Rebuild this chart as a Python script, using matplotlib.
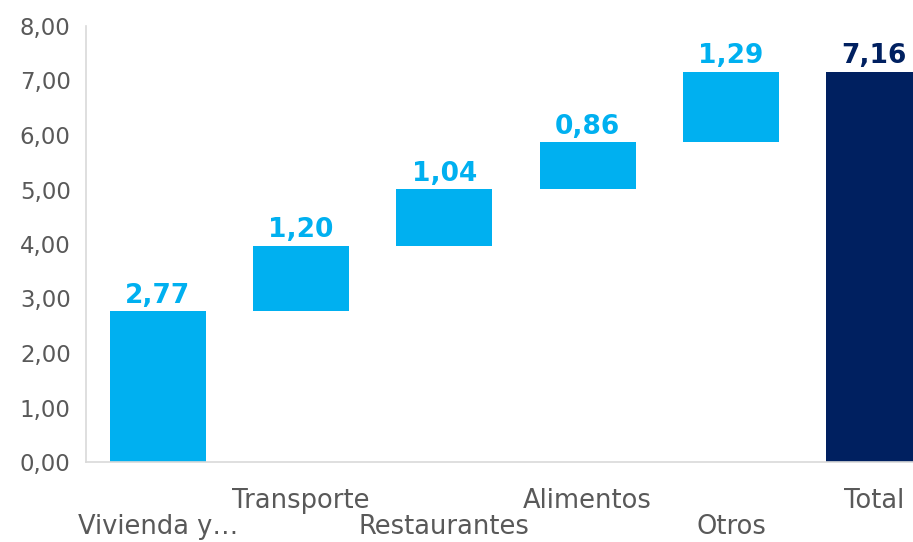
import matplotlib
matplotlib.use("Agg")
import matplotlib.pyplot as plt
from matplotlib.ticker import FuncFormatter

# waterfall data
categories = ["Vivienda y…", "Transporte", "Restaurantes", "Alimentos", "Otros", "Total"]
values = [2.77, 1.20, 1.04, 0.86, 1.29, 7.16]
is_total = [False, False, False, False, False, True]

light_blue = "#00B0F0"
navy = "#002060"
grey_text = "#595959"
grey_line = "#D9D9D9"

plt.rcParams["font.family"] = ["DejaVu Sans"]

fig = plt.figure(figsize=(9.13, 5.42), dpi=100)
ax = fig.add_axes([86 / 913, 80 / 542, 860 / 913, 436 / 542])

# compute bottoms of the floating bars
bottoms = []
running = 0.0
for v, tot in zip(values, is_total):
    if tot:
        bottoms.append(0.0)
    else:
        bottoms.append(running)
        running += v

x = list(range(len(categories)))
colors = [navy if t else light_blue for t in is_total]
ax.bar(x, values, bottom=bottoms, width=0.67, color=colors)

for xi, v, b, c in zip(x, values, bottoms, colors):
    ax.annotate(("%.2f" % v).replace(".", ","), (xi, b + v), xytext=(0, 6),
                textcoords="offset points", ha="center", va="baseline",
                fontsize=19, fontweight="bold", color=c)

ax.set_xlim(-0.5, 5.5)
ax.set_ylim(0, 8)
ax.set_yticks(range(0, 9))
ax.yaxis.set_major_formatter(FuncFormatter(lambda v, p: ("%.2f" % v).replace(".", ",")))
ax.tick_params(axis="y", length=0, pad=11, labelsize=16.5, labelcolor=grey_text)
ax.set_xticks([])

# staggered category labels
for i, name in enumerate(categories):
    yl = -0.844 if i % 2 == 1 else -1.33
    ax.text(i, yl, name, ha="center", va="baseline", fontsize=18.5,
            color=grey_text, clip_on=False)

for s in ["top", "right"]:
    ax.spines[s].set_visible(False)
for s in ["left", "bottom"]:
    ax.spines[s].set_color(grey_line)
    ax.spines[s].set_linewidth(1.2)

fig.savefig("out.png", dpi=100)
